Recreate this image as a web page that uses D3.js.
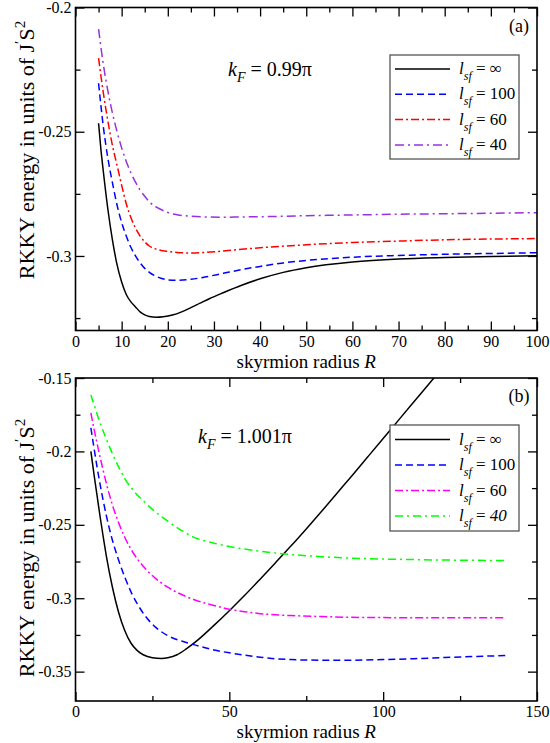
<!DOCTYPE html>
<html><head><meta charset="utf-8">
<script src="https://cdn.jsdelivr.net/npm/d3@7"></script>
<style>
body{margin:0;background:#fff}
text{font-family:"Liberation Serif","Times New Roman",serif;fill:#000}
</style>
</head><body>
<svg id="c" width="550" height="743"></svg>
<script>
// ---------- Panel (a): kF = 0.99π ----------
const aR_inf = [5,5.5,6,7,8,9,10,11,12,13,14,15,16,17.5,19,21,23,25,27,29,32,36,40,45,50,60,70,80,90,100];
const aE_inf = [-0.2466,-0.257,-0.2655,-0.281,-0.2935,-0.3035,-0.3105,-0.3155,-0.3185,-0.3205,-0.3225,-0.3237,-0.3244,-0.3247,-0.3245,-0.3238,-0.3225,-0.3208,-0.319,-0.3172,-0.3148,-0.3118,-0.3092,-0.3066,-0.3047,-0.3024,-0.3012,-0.3006,-0.3002,-0.2999];
const aR_100 = [5,6,7,8,9,10,11,12,13,14,15,16,18,20,22,25,28,32,36,40,45,50,60,70,80,90,100];
const aE_100 = [-0.2305,-0.2475,-0.2605,-0.2705,-0.2795,-0.2865,-0.292,-0.2965,-0.3,-0.3028,-0.305,-0.3066,-0.3086,-0.3096,-0.3098,-0.3094,-0.3085,-0.307,-0.3055,-0.3042,-0.3028,-0.3018,-0.3005,-0.2998,-0.2993,-0.299,-0.2987];
const aR_60 = [5,6,7,8,9,10,11,12,13,14,15,16,18,20,22,25,28,32,36,40,50,60,70,80,90,100];
const aE_60 = [-0.2204,-0.234,-0.2455,-0.2555,-0.2635,-0.2715,-0.279,-0.2845,-0.2888,-0.292,-0.2943,-0.296,-0.2975,-0.2982,-0.2986,-0.2988,-0.2986,-0.298,-0.2973,-0.2967,-0.2955,-0.2946,-0.294,-0.2935,-0.2932,-0.293];
const aR_40 = [5,6,7,8,9,10,11,12,13,14,15,16,18,20,22,25,28,32,36,40,50,60,70,80,90,100];
const aE_40 = [-0.2087,-0.2225,-0.2335,-0.2425,-0.25,-0.2565,-0.262,-0.2665,-0.2703,-0.2735,-0.276,-0.2782,-0.2808,-0.2825,-0.2834,-0.284,-0.2843,-0.2844,-0.2843,-0.2842,-0.2838,-0.2835,-0.2832,-0.283,-0.2828,-0.2826];

// ---------- Panel (b): kF = 1.001π ----------
const bR_inf = [5,6,7,8,9,10,12,14,16,18,20,22,25,28,30,33,36,40,45,50,55,60,65,70,75,80,85,90,95,100,105,110,115,120];
const bE_inf = [-0.2,-0.2155,-0.23,-0.2445,-0.258,-0.271,-0.2925,-0.3095,-0.322,-0.3305,-0.3355,-0.3385,-0.3405,-0.341,-0.3405,-0.3385,-0.3345,-0.328,-0.3185,-0.3085,-0.298,-0.287,-0.2758,-0.2645,-0.2528,-0.2408,-0.2285,-0.2162,-0.2037,-0.1912,-0.1787,-0.1662,-0.1537,-0.1412];
const bR_100 = [5,6,7,8,9,10,11,12,13,14,16,18,20,23,26,30,35,40,45,50,55,60,65,70,80,90,100,110,120,130,140];
const bE_100 = [-0.184,-0.1975,-0.2105,-0.2225,-0.2335,-0.2435,-0.2525,-0.2605,-0.2675,-0.274,-0.2855,-0.2955,-0.3035,-0.313,-0.3197,-0.3255,-0.3295,-0.3325,-0.3352,-0.3372,-0.3388,-0.3402,-0.3412,-0.3418,-0.3422,-0.3422,-0.3418,-0.3412,-0.3404,-0.3397,-0.339];
const bR_60 = [5,6,7,8,9,10,12,14,16,18,20,23,26,30,35,40,45,50,55,60,70,80,90,100,110,120,130,140];
const bE_60 = [-0.1738,-0.1845,-0.1945,-0.204,-0.213,-0.2215,-0.2365,-0.2485,-0.2585,-0.2665,-0.273,-0.2805,-0.2865,-0.2925,-0.298,-0.302,-0.305,-0.3075,-0.3092,-0.3105,-0.3118,-0.3125,-0.313,-0.3132,-0.3133,-0.3133,-0.3133,-0.3132];
const bR_40 = [5,6,7,8,10,12,14,16,18,20,22,25,30,35,38,45,50,60,70,80,90,100,110,120,130,140];
const bE_40 = [-0.1615,-0.168,-0.1745,-0.1805,-0.1915,-0.2015,-0.2105,-0.2185,-0.2245,-0.2295,-0.2335,-0.2395,-0.2475,-0.2545,-0.258,-0.2625,-0.2648,-0.268,-0.2702,-0.2717,-0.2727,-0.2733,-0.2737,-0.274,-0.2742,-0.2743];

// ---------- Tick labels / legend ----------
const aXMajor = [0,10,20,30,40,50,60,70,80,90,100];
const aXMinor = [5,15,25,35,45,55,65,75,85,95];
const aYMajor = [-0.3,-0.25,-0.2];
const aYMinor = [-0.325,-0.275,-0.225];
const bXMajor = [0,50,100,150];
const bXMinor = [25,75,125];
const bYMajor = [-0.35,-0.3,-0.25,-0.2,-0.15];
const bYMinor = [-0.325,-0.275,-0.225,-0.175];
const legendValsA = ["∞","100","60","40"];
const legendValsB = ["∞","100","60","40"];

const svg = d3.select("#c");
const L = 75.5, Rt = 537;

function panel(cfg){
  const x = d3.scaleLinear().domain(cfg.xdom).range([L, Rt]);
  const y = d3.scaleLinear().domain(cfg.ydom).range([cfg.bottom, cfg.top]);
  const g = svg.append("g");
  const clipId = "clip"+cfg.id;
  svg.append("clipPath").attr("id", clipId).append("rect")
    .attr("x", L).attr("y", cfg.top).attr("width", Rt-L).attr("height", cfg.bottom-cfg.top);

  const line = d3.line().x(d=>x(d[0])).y(d=>y(d[1])).curve(d3.curveMonotoneX);
  cfg.series.forEach(s=>{
    const pts = s.R.map((r,i)=>[r, s.E[i]]);
    g.append("path").attr("d", line(pts)).attr("fill","none")
      .attr("stroke", s.color).attr("stroke-width",1.5)
      .attr("stroke-dasharray", s.dash || null)
      .attr("clip-path","url(#"+clipId+")");
  });

  const ax = (gen, scale, vals, size, labels, tr) => {
    const a = gen(scale).tickValues(vals).tickSizeInner(size).tickSizeOuter(0);
    if(labels) a.tickFormat(labels); else a.tickFormat("");
    const gg = g.append("g").attr("transform", tr).call(a);
    gg.select(".domain").remove();
    gg.selectAll("line").attr("stroke","#000").attr("stroke-width",1.3);
    gg.selectAll("text").style("font-family","Liberation Serif, serif").style("font-size","16px").attr("fill","#000");
    return gg;
  };
  ax(d3.axisBottom, x, cfg.xMajor, -9, d=>String(d), `translate(0,${cfg.bottom})`)
    .selectAll("text").attr("y", 5).attr("dy","0.71em");
  ax(d3.axisBottom, x, cfg.xMinor, -5, null, `translate(0,${cfg.bottom})`);
  ax(d3.axisTop, x, cfg.xMajor, -9, null, `translate(0,${cfg.top})`);
  ax(d3.axisTop, x, cfg.xMinor, -5, null, `translate(0,${cfg.top})`);
  ax(d3.axisLeft, y, cfg.yMajor, -9, d=>String(d), `translate(${L},0)`)
    .selectAll("text").attr("x", -4);
  ax(d3.axisLeft, y, cfg.yMinor, -5, null, `translate(${L},0)`);
  ax(d3.axisRight, y, cfg.yMajor, -9, null, `translate(${Rt},0)`);
  ax(d3.axisRight, y, cfg.yMinor, -5, null, `translate(${Rt},0)`);

  g.append("rect").attr("x",L).attr("y",cfg.top).attr("width",Rt-L).attr("height",cfg.bottom-cfg.top)
    .attr("fill","none").attr("stroke","#000").attr("stroke-width",1.6);

  const xt = g.append("text").attr("x",(L+Rt)/2).attr("y",cfg.bottom+37).attr("text-anchor","middle")
    .style("font-size","19px");
  xt.append("tspan").text("skyrmion radius ");
  xt.append("tspan").style("font-style","italic").text("R");

  const yt = g.append("text").attr("transform",`translate(34,${cfg.ylabCy}) rotate(-90)`).attr("text-anchor","middle")
    .style("font-size","22px");
  yt.append("tspan").text("RKKY energy in units of J");
  yt.append("tspan").attr("dy",-9).style("font-size","15px").text("′");
  yt.append("tspan").attr("dy",9).text("S");
  yt.append("tspan").attr("dy",-9).style("font-size","15px").text("2");

  g.append("text").attr("x",cfg.tag[0]).attr("y",cfg.tag[1]).attr("text-anchor","middle")
    .style("font-size","18px").text(cfg.tagText);

  const kt = g.append("text").attr("x",cfg.kf[0]).attr("y",cfg.kf[1]).style("font-size","20px");
  kt.append("tspan").style("font-style","italic").text("k");
  kt.append("tspan").attr("dy",6).style("font-style","italic").style("font-size","14px").text("F");
  kt.append("tspan").attr("dy",-6).text(" = "+cfg.kfText);

  const lg = cfg.legend;
  g.append("rect").attr("x",lg.x).attr("y",lg.y).attr("width",lg.w).attr("height",lg.h)
    .attr("fill","#fff").attr("stroke","#555").attr("stroke-width",1.3);
  cfg.series.forEach((s,i)=>{
    const yy = lg.y + lg.first + i*lg.step;
    g.append("line").attr("x1",lg.x+5).attr("x2",lg.x+60).attr("y1",yy).attr("y2",yy)
      .attr("stroke",s.color).attr("stroke-width",1.5).attr("stroke-dasharray",s.dash||null);
    const t = g.append("text").attr("x",lg.x+69).attr("y",yy+5).style("font-size","17px");
    t.append("tspan").style("font-style","italic").text("l");
    t.append("tspan").attr("dy",6).style("font-style","italic").style("font-size","12px").text("sf");
    t.append("tspan").attr("dy",-6).text(" = ");
    t.append("tspan").style("font-style", s.italicVal ? "italic":"normal").text(s.label);
  });
}

panel({
  id:"a", top:7.5, bottom:330.5, xdom:[0,100], ydom:[-0.33,-0.2], ylabCy:150,
  xMajor:aXMajor, xMinor:aXMinor, yMajor:aYMajor, yMinor:aYMinor,
  tag:[519,32], tagText:"(a)", kf:[228,76], kfText:"0.99π",
  legend:{x:390,y:55,w:129,h:104,first:14,step:25.3},
  series:[
    {R:aR_inf,E:aE_inf,color:"#000",dash:null,label:legendValsA[0]},
    {R:aR_100,E:aE_100,color:"#0000ff",dash:"7,4",label:legendValsA[1]},
    {R:aR_60,E:aE_60,color:"#ff0000",dash:"8,3,2,3",label:legendValsA[2]},
    {R:aR_40,E:aE_40,color:"#9a30e0",dash:"9,4,2,4",label:legendValsA[3]}
  ]
});
panel({
  id:"b", top:378, bottom:701, xdom:[0,150], ydom:[-0.37,-0.15], ylabCy:548,
  xMajor:bXMajor, xMinor:bXMinor, yMajor:bYMajor, yMinor:bYMinor,
  tag:[519,402], tagText:"(b)", kf:[198,443], kfText:"1.001π",
  legend:{x:390,y:425,w:129,h:106,first:14.5,step:25.5},
  series:[
    {R:bR_inf,E:bE_inf,color:"#000",dash:null,label:legendValsB[0]},
    {R:bR_100,E:bE_100,color:"#0000ff",dash:"7,4",label:legendValsB[1]},
    {R:bR_60,E:bE_60,color:"#ff00ff",dash:"8,3,2,3",label:legendValsB[2]},
    {R:bR_40,E:bE_40,color:"#00ff00",dash:"8,4,2,4",label:legendValsB[3],italicVal:true}
  ]
});
</script>
</body></html>
